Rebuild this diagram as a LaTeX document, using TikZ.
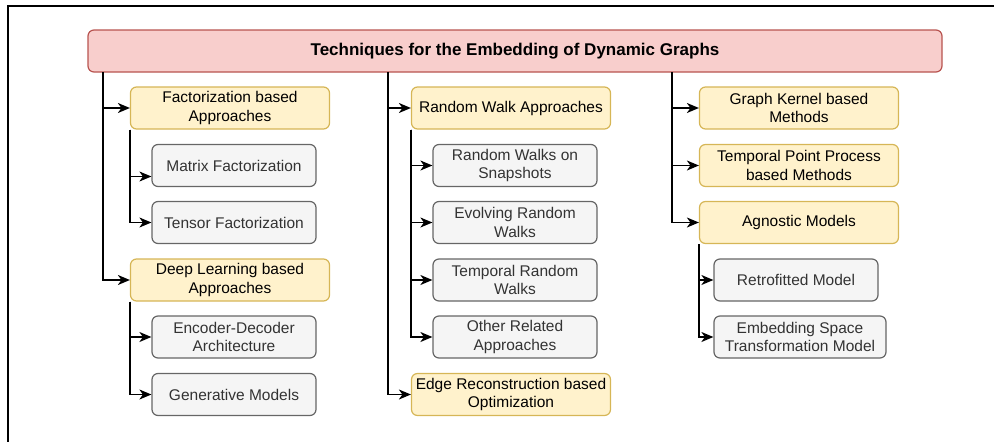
\documentclass[tikz,border=0pt]{standalone}
\usepackage{fontspec}
\setmainfont{Liberation Sans}
\usetikzlibrary{arrows.meta}

\definecolor{headfill}{HTML}{F8CECC}
\definecolor{headline}{HTML}{B85450}
\definecolor{catfill}{HTML}{FFF2CC}
\definecolor{catline}{HTML}{D6B656}
\definecolor{subfill}{HTML}{F5F5F5}
\definecolor{subline}{HTML}{666666}
\definecolor{subtext}{HTML}{333333}

\begin{document}
\begin{tikzpicture}[x=1pt,y=-1pt]
        % Define styles for the boxes and the arrows
        \tikzstyle{head}=[draw=headline,fill=headfill,rounded corners=6pt,line width=1.2pt,minimum width=854pt,minimum height=42pt,font=\fontsize{17}{20}\selectfont\bfseries]
        \tikzstyle{category}=[draw=catline,fill=catfill,rounded corners=6pt,line width=1.2pt,minimum width=199pt,minimum height=42pt,align=center,font=\fontsize{15.5}{18.3}\selectfont]
        \tikzstyle{method}=[category,draw=subline,fill=subfill,text=subtext,minimum width=164pt]
        \tikzstyle{link}=[line width=1.4pt,-{Stealth[length=12pt,width=10pt,inset=3.5pt]}]

        \useasboundingbox (0,0) rectangle (994,442);

        % Draw the frame
        \draw[line width=2pt] (8,442) -- (8,6) -- (994,6);

        % Draw the title box
        \node[head] (root) at (515,51) {Techniques for the Embedding of Dynamic Graphs};

        % Draw the first column
        \node[category] (fact) at (230,108) {Factorization based\\Approaches};
        \node[method] (mf) at (234,165.5) {Matrix Factorization};
        \node[method] (tf) at (234,222.5) {Tensor Factorization};
        \node[category] (deep) at (230,280) {Deep Learning based\\Approaches};
        \node[method] (ed) at (234,337) {Encoder-Decoder\\Architecture};
        \node[method] (gen) at (234,394.5) {Generative Models};

        % Draw the second column
        \node[category] (rw) at (511,108) {Random Walk Approaches};
        \node[method] (rws) at (515,165.5) {Random Walks on\\Snapshots};
        \node[method] (erw) at (515,222.5) {Evolving Random\\Walks};
        \node[method] (trw) at (515,280) {Temporal Random\\Walks};
        \node[method] (orw) at (515,337) {Other Related\\Approaches};
        \node[category] (edge) at (511,394.5) {Edge Reconstruction based\\Optimization};

        % Draw the third column
        \node[category] (gk) at (799,108) {Graph Kernel based\\Methods};
        \node[category] (tpp) at (799,165.5) {Temporal Point Process\\based Methods};
        \node[category] (agn) at (799,222.5) {Agnostic Models};
        \node[method] (retro) at (796,280) {Retrofitted Model};
        \node[method,minimum width=172pt] (est) at (800,337) {Embedding Space\\Transformation Model};

        % Points where the trunks leave the title
        \coordinate (c1) at (103,72);
        \coordinate (c2) at (388,72);
        \coordinate (c3) at (672,72);

        % Connect the first column
        \draw[link] (c1) |- (fact);
        \draw[link] (c1) |- (deep);
        \draw[link] (fact.south west) |- ([yshift=-11pt]mf.west);
        \draw[link] (fact.south west) |- (tf);
        \draw[link] (deep.south west) |- (ed);
        \draw[link] (deep.south west) |- (gen);

        % Connect the second column
        \draw[link] (c2) |- (rw);
        \draw[link] (c2) |- (edge);
        \draw[link] (rw.south west) |- (rws);
        \draw[link] (rw.south west) |- (erw);
        \draw[link] (rw.south west) |- (trw);
        \draw[link] (rw.south west) |- (orw);

        % Connect the third column
        \draw[link] (c3) |- (gk);
        \draw[link] (c3) |- (tpp);
        \draw[link] (c3) |- (agn);
        \draw[link] (agn.south west) |- (retro);
        \draw[link] (agn.south west) |- (est);
\end{tikzpicture}
\end{document}
